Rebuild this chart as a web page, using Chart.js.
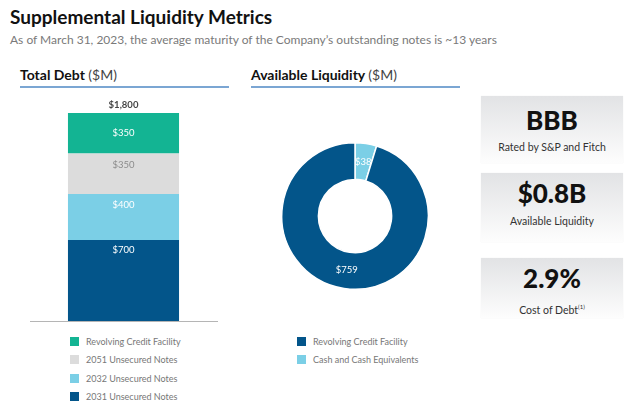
<!DOCTYPE html>
<html>
<head>
<meta charset="utf-8">
<script src="https://cdn.jsdelivr.net/npm/chart.js@4.4.0/dist/chart.umd.min.js"></script>
<style>
  body { margin: 0; width: 640px; height: 409px; background: #fff; font-family: Lato, 'Open Sans', sans-serif; position: relative; overflow: hidden; }
  .abs { position: absolute; }
  #title { left: 10px; top: 5px; font-size: 19px; font-weight: bold; color: #111; }
  #subtitle { left: 10px; top: 32px; font-size: 12px; color: #7a7a7a; }
  .hdr { font-size: 14px; font-weight: bold; color: #111; border-bottom: 2px solid #7ba6d3; padding-bottom: 3px; width: 209px; }
  .hdr span { font-weight: normal; color: #444; }
  .legend { font-size: 9px; color: #777; }
  .legend div { height: 18.5px; display: flex; align-items: center; }
  .legend i { display: inline-block; width: 9px; height: 9px; margin-right: 7px; }
  .box { left: 481px; width: 142px; background: linear-gradient(#e2e3e5, #fdfdfd); color: #111; box-shadow: 0 0 1px rgba(0,0,0,0.08); }
  .box b, .box span { position: absolute; left: 0; width: 100%; text-align: center; }
  .box b { font-size: 26px; line-height: 30px; margin-top: -15px; font-weight: 900; }
  .box span { font-size: 10.5px; line-height: 14px; margin-top: -7px; color: #333; }
</style>
</head>
<body>
<div id="title" class="abs">Supplemental Liquidity Metrics</div>
<div id="subtitle" class="abs">As of March 31, 2023, the average maturity of the Company’s outstanding notes is ~13 years</div>

<div class="abs hdr" style="left:20px; top:66px;">Total Debt <span>($M)</span></div>
<div class="abs hdr" style="left:251px; top:66px;">Available Liquidity <span>($M)</span></div>

<div class="abs" style="left:0; top:90px; width:240px; height:240px;"><canvas id="debtChart"></canvas></div>
<div class="abs" style="left:281px; top:142px; width:148px; height:148px;"><canvas id="liqChart"></canvas></div>

<div id="debtLegend" class="abs legend" style="left:70px; top:332px;"></div>
<div id="liqLegend" class="abs legend" style="left:297px; top:332px;"></div>

<div class="abs box" style="top:96px; height:67px;"><b style="top:24px;">BBB</b><span style="top:51px;">Rated by S&amp;P and Fitch</span></div>
<div class="abs box" style="top:173px; height:69px;"><b style="top:20px;">$0.8B</b><span style="top:48px;">Available Liquidity</span></div>
<div class="abs box" style="top:258px; height:60px;"><b style="top:20px;">2.9%</b><span style="top:49px;">Cost of Debt<sup style="font-size:6px;">(1)</sup></span></div>

<script>
// Total Debt stack (bottom -> top)
const debtSeries = ['2031 Unsecured Notes', '2032 Unsecured Notes', '2051 Unsecured Notes', 'Revolving Credit Facility'];
const debtValues = [700, 400, 350, 350];
const debtColors = ['#03558a', '#7bcfe6', '#dcdcdc', '#13b493'];
const debtLabelColors = ['#fff', '#fff', '#8c8c8c', '#fff'];
const debtLabelOffsets = [10, 11, 11, 20]; // px below segment top
const debtTotalLabel = '$1,800';

// Available Liquidity
const liqLabels = ['Cash and Cash Equivalents', 'Revolving Credit Facility'];
const liqValues = [38, 759];
const liqColors = ['#7bcfe6', '#03558a'];

const money = v => '$' + v.toLocaleString('en-US');

// simple label plugin for bar segments
const barLabels = {
  id: 'barLabels',
  afterDatasetsDraw(chart) {
    const ctx = chart.ctx;
    ctx.save();
    ctx.textAlign = 'center';
    ctx.textBaseline = 'middle';
    ctx.font = '9.5px Lato, sans-serif';
    chart.data.datasets.forEach((ds, i) => {
      const bar = chart.getDatasetMeta(i).data[0];
      ctx.fillStyle = debtLabelColors[i];
      ctx.fillText(money(ds.data[0]), bar.x, bar.y + debtLabelOffsets[i]);
    });
    const top = chart.getDatasetMeta(chart.data.datasets.length - 1).data[0];
    ctx.fillStyle = '#444';
    ctx.font = 'bold 9.5px Lato, sans-serif';
    ctx.fillText(debtTotalLabel, top.x, top.y - 8);
    ctx.restore();
  }
};

new Chart(document.getElementById('debtChart'), {
  type: 'bar',
  data: {
    labels: ['Total Debt'],
    datasets: debtSeries.map((s, i) => ({
      label: s,
      data: [debtValues[i]],
      backgroundColor: debtColors[i],
      borderWidth: 0,
      barPercentage: 0.594,
      categoryPercentage: 1
    }))
  },
  options: {
    responsive: true,
    maintainAspectRatio: false,
    animation: false,
    layout: { padding: { left: 30, right: 23, top: 23, bottom: 9 } },
    plugins: { legend: { display: false }, tooltip: { enabled: false } },
    scales: {
      x: { stacked: true, ticks: { display: false }, grid: { display: false, drawTicks: false }, border: { color: '#b5b5b5', width: 1 } },
      y: { stacked: true, display: false, min: 0, max: 1800 }
    }
  },
  plugins: [barLabels]
});

const arcLabels = {
  id: 'arcLabels',
  afterDatasetsDraw(chart) {
    const ctx = chart.ctx;
    ctx.save();
    ctx.textAlign = 'center';
    ctx.textBaseline = 'middle';
    ctx.font = '9.5px Lato, sans-serif';
    ctx.fillStyle = '#fff';
    chart.getDatasetMeta(0).data.forEach((arc, i) => {
      const p = arc.tooltipPosition();
      ctx.fillText(money(liqValues[i]), p.x, p.y);
    });
    ctx.restore();
  }
};

new Chart(document.getElementById('liqChart'), {
  type: 'doughnut',
  data: {
    labels: liqLabels,
    datasets: [{ data: liqValues, backgroundColor: liqColors, borderColor: '#fff', borderWidth: 1.5 }]
  },
  options: {
    responsive: true,
    maintainAspectRatio: false,
    animation: false,
    cutout: '50%',
    plugins: { legend: { display: false }, tooltip: { enabled: false } }
  },
  plugins: [arcLabels]
});

// HTML legends
const debtLegend = document.getElementById('debtLegend');
for (let i = debtSeries.length - 1; i >= 0; i--) {
  debtLegend.innerHTML += '<div><i style="background:' + debtColors[i] + '"></i>' + debtSeries[i] + '</div>';
}
const liqLegend = document.getElementById('liqLegend');
for (let i = liqLabels.length - 1; i >= 0; i--) {
  liqLegend.innerHTML += '<div><i style="background:' + liqColors[i] + '"></i>' + liqLabels[i] + '</div>';
}
</script>
</body>
</html>
